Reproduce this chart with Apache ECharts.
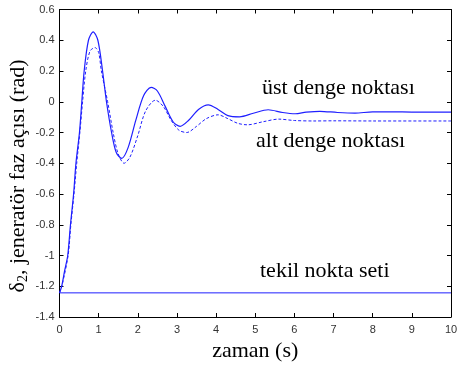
<!DOCTYPE html>
<html>
<head>
<meta charset="utf-8">
<script src="https://cdn.jsdelivr.net/npm/echarts@6/dist/echarts.min.js"></script>
<style>
  html, body { margin: 0; padding: 0; background: #fff; }
  #main { width: 457px; height: 367px; }
</style>
</head>
<body>
<div id="main"></div>
<script>
// üst denge noktası (solid)
var ustT = [0, 0.056, 0.13, 0.21, 0.28, 0.36, 0.42, 0.51, 0.57, 0.63, 0.74, 0.86, 0.98, 1.10, 1.2, 1.33, 1.45, 1.59, 1.75, 1.95, 2.15, 2.34, 2.5, 2.7, 2.9, 3.08, 3.3, 3.55, 3.8, 4.05, 4.3, 4.6, 4.95, 5.33, 5.7, 6.02, 6.3, 6.65, 7.1, 7.55, 8.0, 8.5, 9, 10];
var ustV = [-1.243, -1.2, -1.1, -1.0, -0.8, -0.6, -0.4, -0.2, 0, 0.2, 0.4, 0.455, 0.4, 0.2, 0, -0.2, -0.33, -0.368, -0.3, -0.12, 0.04, 0.093, 0.07, -0.03, -0.13, -0.16, -0.12, -0.05, -0.02, -0.05, -0.09, -0.098, -0.075, -0.052, -0.07, -0.078, -0.068, -0.062, -0.07, -0.074, -0.066, -0.066, -0.067, -0.067];
// alt denge noktası (dashed)
var altT = [0, 0.06, 0.22, 0.29, 0.37, 0.44, 0.52, 0.59, 0.67, 0.78, 0.91, 1.0, 1.07, 1.23, 1.37, 1.5, 1.65, 1.8, 2.0, 2.2, 2.45, 2.65, 2.85, 3.05, 3.25, 3.5, 3.75, 4.05, 4.3, 4.55, 4.8, 5.2, 5.6, 6.0, 6.5, 7, 8, 10];
var altV = [-1.243, -1.2, -1.0, -0.8, -0.6, -0.4, -0.2, 0, 0.2, 0.33, 0.352, 0.32, 0.2, 0, -0.2, -0.34, -0.40, -0.36, -0.22, -0.06, 0.01, -0.03, -0.12, -0.185, -0.2, -0.16, -0.11, -0.085, -0.11, -0.14, -0.15, -0.13, -0.113, -0.122, -0.125, -0.124, -0.125, -0.125];
// tekil nokta seti
var tekilT = [0, 10];
var tekilV = [-1.243, -1.243];

function pairs(t, v) {
  return t.map(function (x, i) { return [x, v[i]]; });
}

var myChart = echarts.init(document.getElementById('main'));

var tickLabel = { fontFamily: 'Liberation Sans', fontSize: 11, color: '#333' };
var serif = 'Liberation Serif';
var boxLine = { onZero: false, lineStyle: { color: '#000', width: 1 } };
var boxTick = { inside: true, length: 4, lineStyle: { color: '#000' } };
var noteFont = '22px "Liberation Serif"';

var option = {
  animation: false,
  backgroundColor: '#fff',
  grid: { left: 59.5, right: 6, top: 9.5, bottom: 50, outerBoundsMode: 'none' },
  xAxis: [
    {
      type: 'value', min: 0, max: 10, interval: 1,
      name: 'zaman (s)', nameLocation: 'middle', nameGap: 22,
      nameTextStyle: { fontFamily: serif, fontSize: 22, color: '#000' },
      axisLine: boxLine, axisTick: boxTick,
      axisLabel: Object.assign({ margin: 7 }, tickLabel),
      splitLine: { show: false }
    },
    {
      type: 'value', min: 0, max: 10, interval: 1, position: 'top',
      axisLine: boxLine, axisTick: boxTick,
      axisLabel: { show: false },
      splitLine: { show: false }
    }
  ],
  yAxis: [
    {
      type: 'value', min: -1.4, max: 0.6, interval: 0.2,
      axisLine: boxLine, axisTick: boxTick,
      axisLabel: Object.assign({
        margin: 5,
        formatter: function (v) { return String(+v.toFixed(1)); }
      }, tickLabel),
      splitLine: { show: false }
    },
    {
      type: 'value', min: -1.4, max: 0.6, interval: 0.2, position: 'right',
      axisLine: boxLine, axisTick: boxTick,
      axisLabel: { show: false },
      splitLine: { show: false }
    }
  ],
  graphic: [
    {
      type: 'text', x: 18, y: 176, rotation: Math.PI / 2,
      style: {
        text: 'δ{sub|2}, jeneratör faz açısı (rad)',
        fontFamily: serif, fontSize: 22, fill: '#000',
        align: 'center', verticalAlign: 'middle',
        rich: { sub: { fontFamily: serif, fontSize: 14, fill: '#000', padding: [10, 0, 0, 0] } }
      }
    },
    { type: 'text', left: 262, top: 77, style: { text: 'üst denge noktası', font: noteFont, fill: '#000' } },
    { type: 'text', left: 256, top: 130, style: { text: 'alt denge noktası', font: noteFont, fill: '#000' } },
    { type: 'text', left: 260, top: 260, style: { text: 'tekil nokta seti', font: noteFont, fill: '#000' } }
  ],
  series: [
    {
      name: 'üst denge noktası', type: 'line', smooth: 0.3, showSymbol: false,
      data: pairs(ustT, ustV),
      lineStyle: { color: '#1f1fff', width: 1.2 }
    },
    {
      name: 'alt denge noktası', type: 'line', smooth: 0.3, showSymbol: false,
      data: pairs(altT, altV),
      lineStyle: { color: '#1f1fff', width: 1, type: [3, 2] }
    },
    {
      name: 'tekil nokta seti', type: 'line', showSymbol: false,
      data: pairs(tekilT, tekilV),
      lineStyle: { color: '#1f1fff', width: 1 }
    }
  ]
};
myChart.setOption(option);
</script>
</body>
</html>
